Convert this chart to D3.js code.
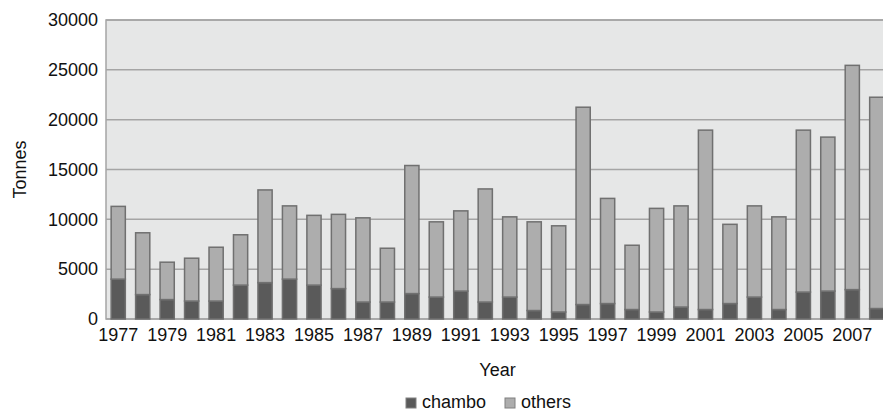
<!DOCTYPE html>
<html>
<head>
<meta charset="utf-8">
<script src="https://cdn.jsdelivr.net/npm/d3@7"></script>
<style>
  body { margin: 0; background: #fff; }
  text { font-family: "Liberation Sans", Arial, sans-serif; fill: #111; }
</style>
</head>
<body>
<div id="chart"></div>
<script>
// data
var years = d3.range(1977, 2009).map(String);
var chambo = [4000, 2450, 1950, 1800, 1800, 3400, 3650, 4000, 3400, 3050, 1700, 1700,
              2550, 2200, 2800, 1700, 2200, 850, 700, 1450, 1550, 950, 700, 1200,
              950, 1550, 2200, 950, 2700, 2800, 2950, 1050];
var total = [11300, 8650, 5700, 6100, 7200, 8450, 12950, 11350, 10400, 10500, 10150, 7100,
             15400, 9750, 10850, 13050, 10250, 9750, 9350, 21250, 12100, 7400, 11100, 11350,
             18950, 9500, 11350, 10250, 18950, 18250, 25450, 22250];
var others = total.map(function(t, i) { return t - chambo[i]; });
var yTicks = [0, 5000, 10000, 15000, 20000, 25000, 30000];

var W = 883, H = 411;
var margin = {top: 20, left: 106, bottom: 92};
var plotRight = 889;

var svg = d3.select("#chart")
  .append("svg")
    .attr("width", W)
    .attr("height", H);

var x = d3.scaleBand()
    .domain(years)
    .range([margin.left, plotRight])
    .paddingInner(0.42)
    .paddingOuter(0.21);

var y = d3.scaleLinear()
    .domain([0, 30000])
    .range([H - margin.bottom, margin.top]);

// plot background
svg.append("rect")
    .attr("x", margin.left)
    .attr("y", y(30000))
    .attr("width", plotRight - margin.left)
    .attr("height", y(0) - y(30000))
    .style("fill", "#e6e7e7")
    .style("stroke", "#a5a5a5")
    .style("stroke-width", 1.5);

// gridlines
svg.append("g")
  .selectAll("line")
  .data(yTicks)
  .enter()
  .append("line")
    .attr("x1", margin.left)
    .attr("x2", plotRight)
    .attr("y1", d => y(d))
    .attr("y2", d => y(d))
    .style("stroke", "#a5a5a5")
    .style("stroke-width", 1.5);

// y axis labels
var yAxis = svg.append("g")
    .attr("transform", "translate(" + margin.left + ",0)")
    .call(d3.axisLeft(y).tickValues(yTicks).tickSize(0).tickPadding(8).tickFormat(d3.format("d")));
yAxis.select(".domain").remove();
yAxis.selectAll("text").style("font-size", "18px").style("font-family", "Liberation Sans, Arial, sans-serif");

// x axis labels (every other year)
var xAxis = svg.append("g")
    .attr("transform", "translate(0," + y(0) + ")")
    .call(d3.axisBottom(x).tickValues(years.filter((d, i) => i % 2 === 0)).tickSize(0).tickPadding(9));
xAxis.select(".domain").remove();
xAxis.selectAll("text").style("font-size", "18px").style("font-family", "Liberation Sans, Arial, sans-serif");

// stacked bars
var stack = d3.stack().keys(["chambo", "others"]);
var rows = years.map(function(yr, i) { return {year: yr, chambo: chambo[i], others: others[i]}; });
var colors = {chambo: "#5a5a5a", others: "#adadad"};

svg.append("g")
  .selectAll("g")
  .data(stack(rows))
  .enter()
  .append("g")
    .style("fill", d => colors[d.key])
    .style("stroke", "#707070")
    .style("stroke-width", 1.5)
  .selectAll("rect")
  .data(d => d)
  .enter()
  .append("rect")
    .attr("x", d => x(d.data.year))
    .attr("y", d => y(d[1]))
    .attr("width", x.bandwidth())
    .attr("height", d => y(d[0]) - y(d[1]));

// axis titles
svg.append("text")
    .attr("x", (margin.left + plotRight) / 2)
    .attr("y", 376)
    .attr("text-anchor", "middle")
    .style("font-size", "18px")
    .text("Year");

svg.append("text")
    .attr("transform", "translate(26," + ((y(0) + y(30000)) / 2) + ") rotate(-90)")
    .attr("text-anchor", "middle")
    .style("font-size", "18px")
    .text("Tonnes");

// legend
var legend = [{key: "chambo", x: 406}, {key: "others", x: 505}];
var lg = svg.append("g")
  .selectAll("g")
  .data(legend)
  .enter()
  .append("g")
    .attr("transform", d => "translate(" + d.x + ",398)");
lg.append("rect")
    .attr("width", 10)
    .attr("height", 10)
    .style("fill", d => colors[d.key])
    .style("stroke", "#808080");
lg.append("text")
    .attr("x", 16)
    .attr("y", 10)
    .style("font-size", "18px")
    .text(d => d.key);
</script>
</body>
</html>
